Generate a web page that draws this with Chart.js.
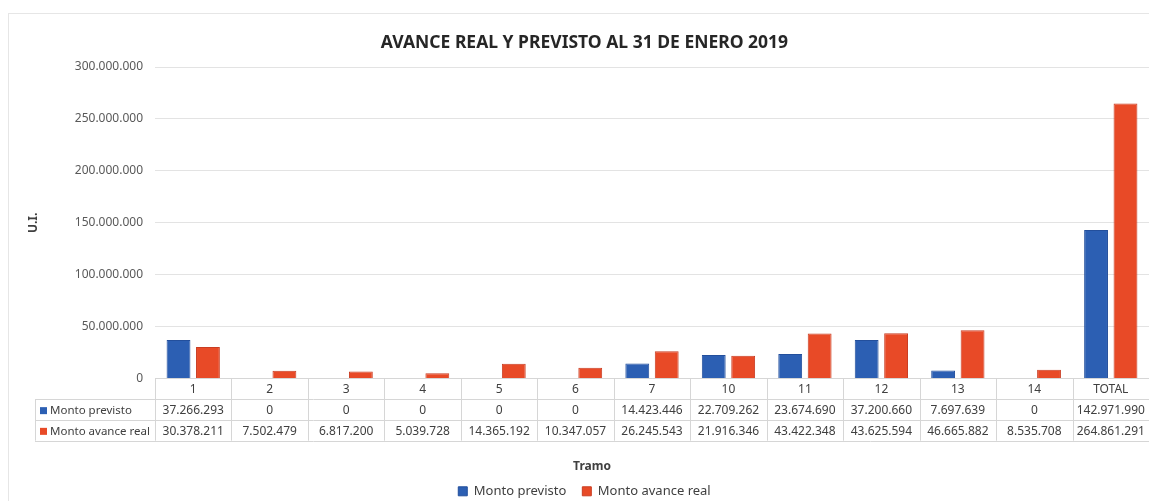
<!DOCTYPE html>
<html>
<head>
<meta charset="utf-8">
<script src="https://cdn.jsdelivr.net/npm/chart.js@4.4.1/dist/chart.umd.min.js"></script>
<style>
  html, body { margin: 0; padding: 0; background: #ffffff; }
  #wrap { position: relative; width: 1149px; height: 501px; }
  #frame { position: absolute; left: 8px; top: 13px; width: 1200px; height: 600px; border-left: 1px solid #e6e6e6; border-top: 1px solid #e6e6e6; pointer-events: none; }
  canvas { position: absolute; left: 0; top: 0; }
</style>
</head>
<body>
<div id="wrap">
  <div id="frame"></div>
  <canvas id="c" width="1149" height="501"></canvas>
</div>
<script>
const categories = ['1', '2', '3', '4', '5', '6', '7', '10', '11', '12', '13', '14', 'TOTAL'];
const montoPrevisto = [37266293, 0, 0, 0, 0, 0, 14423446, 22709262, 23674690, 37200660, 7697639, 0, 142971990];
const montoReal = [30378211, 7502479, 6817200, 5039728, 14365192, 10347057, 26245543, 21916346, 43422348, 43625594, 46665882, 8535708, 264861291];
const seriesNames = ['Monto previsto', 'Monto avance real'];
const seriesColors = ['#2c5fb3', '#e84a27'];
const borderColors = ['#234f9c', '#c93d22'];
const xTitle = 'Tramo';
const yMax = 300000000;
const yStep = 50000000;

function fmt(n) {
  return String(n).replace(/\B(?=(\d{3})+(?!\d))/g, '.');
}

const FONT = "'Noto Sans', 'Open Sans', sans-serif";
const ROW_H = 20.7;
const TABLE_LEFT = 35;

const tablePlugin = {
  id: 'dataTable',
  afterDraw(chart) {
    const ctx = chart.ctx;
    const xs = chart.scales.x;
    const ca = chart.chartArea;
    const top = ca.bottom;
    const n = categories.length;
    const colW = (ca.right - ca.left) / n;
    ctx.save();
    ctx.strokeStyle = '#d6d6d6';
    ctx.lineWidth = 1;
    const rows = [top, top + ROW_H, top + 2 * ROW_H, top + 3 * ROW_H];
    ctx.beginPath();
    for (let r = 1; r < rows.length; r++) {
      const y = Math.round(rows[r]) + 0.5;
      ctx.moveTo(TABLE_LEFT, y);
      ctx.lineTo(ca.right, y);
    }
    for (let i = 0; i <= n; i++) {
      const x = Math.round(ca.left + i * colW) + 0.5;
      ctx.moveTo(x, top);
      ctx.lineTo(x, rows[3]);
    }
    const lx = TABLE_LEFT + 0.5;
    ctx.moveTo(lx, rows[1]);
    ctx.lineTo(lx, rows[3]);
    ctx.stroke();

    ctx.fillStyle = '#404040';
    ctx.font = '12px ' + FONT;
    ctx.textAlign = 'center';
    ctx.textBaseline = 'middle';
    const series = [montoPrevisto, montoReal];
    for (let i = 0; i < n; i++) {
      const cx = xs.getPixelForValue(i);
      ctx.fillText(categories[i], cx, top + ROW_H * 0.5 + 1);
      for (let s = 0; s < series.length; s++) {
        ctx.fillText(fmt(series[s][i]), cx, top + ROW_H * (s + 1.5) + 1);
      }
    }
    ctx.font = '11.5px ' + FONT;
    ctx.textAlign = 'left';
    for (let s = 0; s < series.length; s++) {
      const cy = top + ROW_H * (s + 1.5) + 1;
      ctx.fillStyle = seriesColors[s];
      ctx.fillRect(40, cy - 3.5, 7, 7);
      ctx.fillStyle = '#404040';
      ctx.fillText(seriesNames[s], 50, cy);
    }
    ctx.font = 'bold 12px ' + FONT;
    ctx.textAlign = 'center';
    ctx.fillStyle = '#404040';
    ctx.fillText(xTitle, (TABLE_LEFT + ca.right) / 2, 467);
    ctx.restore();
  }
};

new Chart(document.getElementById('c'), {
  type: 'bar',
  data: {
    labels: categories,
    datasets: [
      { label: seriesNames[0], data: montoPrevisto, backgroundColor: seriesColors[0], borderColor: borderColors[0], borderWidth: 1 },
      { label: seriesNames[1], data: montoReal, backgroundColor: seriesColors[1], borderColor: borderColors[1], borderWidth: 1 }
    ]
  },
  options: {
    responsive: false,
    animation: false,
    events: [],
    layout: { padding: { left: 20, right: 0, top: 0, bottom: -6.8 } },
    datasets: { bar: { categoryPercentage: 0.77, barPercentage: 0.81 } },
    plugins: {
      title: {
        display: true,
        text: 'AVANCE REAL Y PREVISTO AL 31 DE ENERO 2019',
        color: '#262626',
        font: { family: FONT, size: 17.5, weight: 'bold' },
        padding: { top: 33, bottom: 13 }
      },
      legend: {
        position: 'bottom',
        labels: {
          color: '#404040',
          font: { family: FONT, size: 13 },
          boxWidth: 9,
          boxHeight: 9,
          padding: 16,
          useBorderRadius: false
        }
      },
      tooltip: { enabled: false }
    },
    scales: {
      x: {
        grid: { display: false },
        border: { display: true, color: '#d6d6d6' },
        ticks: { display: false },
        title: { display: false },
        afterFit(scale) { scale.height = 90.2; }
      },
      y: {
        min: 0,
        max: yMax,
        grid: { color: '#e3e3e3', drawTicks: false },
        border: { display: false },
        ticks: {
          stepSize: yStep,
          padding: 12,
          color: '#595959',
          font: { family: FONT, size: 12 },
          callback: (v) => fmt(v)
        },
        title: {
          display: true,
          text: 'U.I.',
          color: '#404040',
          font: { family: FONT, size: 12, weight: 'bold' },
          padding: { top: 6, bottom: 0 }
        },
        afterFit(scale) { scale.width = 135; }
      }
    }
  },
  plugins: [tablePlugin]
});
</script>
</body>
</html>
